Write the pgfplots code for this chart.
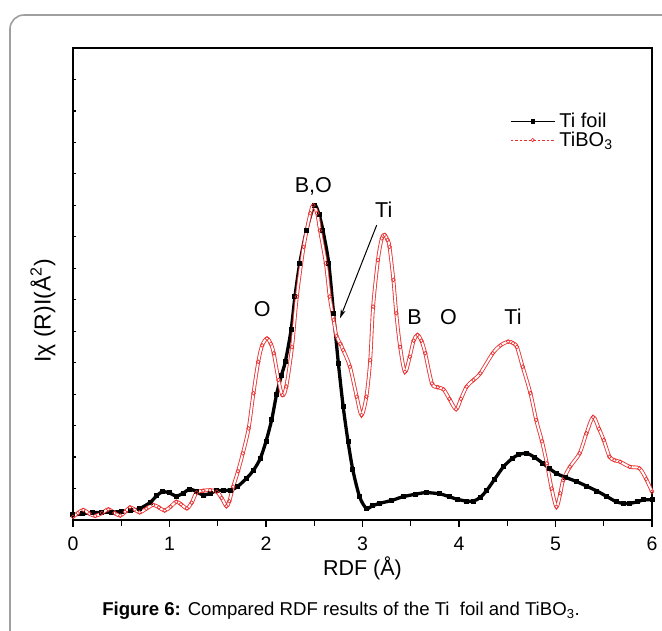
\documentclass[border=0pt]{standalone}
\usepackage{pgfplots}
\pgfplotsset{compat=1.18}
\usepackage{fontspec}
\setmainfont{Liberation Sans}
\usetikzlibrary{arrows.meta}

\definecolor{tired}{RGB}{236,48,48}

% Ti foil reference spectrum
\pgfplotstableread{
r     mag
0.00  0.16
0.10  0.20
0.20  0.23
0.30  0.24
0.40  0.25
0.50  0.27
0.60  0.30
0.69  0.36
0.80  0.56
0.87  0.78
0.93  0.90
1.00  0.86
1.07  0.76
1.14  0.85
1.21  0.98
1.28  0.90
1.35  0.79
1.42  0.85
1.49  0.93
1.56  0.94
1.63  0.95
1.70  1.05
1.80  1.33
1.87  1.58
1.94  1.95
2.00  2.50
2.06  3.20
2.11  4.00
2.16  4.60
2.20  5.03
2.26  6.04
2.30  7.10
2.35  8.16
2.42  9.20
2.50  10.00
2.55  9.70
2.59  9.20
2.65  8.16
2.70  6.57
2.75  4.98
2.80  3.60
2.85  2.50
2.90  1.59
2.97  0.74
3.04  0.37
3.10  0.45
3.18  0.53
3.30  0.62
3.42  0.74
3.55  0.82
3.66  0.87
3.80  0.83
3.90  0.74
3.98  0.66
4.08  0.60
4.15  0.60
4.22  0.72
4.29  0.95
4.37  1.30
4.46  1.69
4.55  1.95
4.62  2.08
4.70  2.12
4.78  2.00
4.87  1.80
4.94  1.63
5.01  1.48
5.10  1.36
5.22  1.22
5.32  1.08
5.43  0.92
5.53  0.75
5.63  0.58
5.70  0.53
5.77  0.53
5.85  0.58
5.91  0.64
6.00  0.64
}\tifoil

% TiBO3 sample
\pgfplotstableread{
r     mag
0.00  0.10
0.05  0.22
0.107 0.32
0.17  0.20
0.23  0.13
0.30  0.22
0.366 0.34
0.43  0.22
0.49  0.14
0.54  0.26
0.59  0.40
0.64  0.33
0.69  0.24
0.76  0.36
0.83  0.48
0.89  0.40
0.95  0.30
1.01  0.42
1.07  0.58
1.12  0.50
1.18  0.37
1.23  0.55
1.28  0.87
1.35  0.93
1.42  0.95
1.49  0.90
1.54  0.70
1.59  0.44
1.62  0.60
1.66  1.06
1.71  1.55
1.76  2.12
1.82  2.91
1.87  4.03
1.92  5.03
1.96  5.55
2.01  5.77
2.05  5.60
2.08  5.30
2.13  4.45
2.17  3.97
2.21  4.24
2.27  5.50
2.32  7.10
2.39  8.68
2.46  9.75
2.49  10.00
2.53  9.75
2.56  9.20
2.62  8.16
2.66  7.10
2.70  6.36
2.73  5.85
2.77  5.60
2.80  5.40
2.87  4.87
2.94  3.92
2.99  3.34
3.04  3.92
3.08  5.08
3.11  6.78
3.16  8.26
3.20  8.95
3.23  9.06
3.26  8.90
3.28  8.68
3.32  7.63
3.35  6.57
3.39  5.50
3.44  4.71
3.49  5.19
3.53  5.70
3.57  5.88
3.61  5.70
3.65  5.30
3.72  4.34
3.78  4.22
3.84  4.15
3.90  3.85
3.97  3.52
4.02  3.85
4.08  4.24
4.15  4.45
4.22  4.66
4.35  5.30
4.43  5.55
4.51  5.67
4.56  5.62
4.60  5.50
4.66  4.87
4.74  4.03
4.80  3.18
4.86  2.50
4.91  1.80
4.96  1.00
5.01  0.42
5.05  0.85
5.08  1.27
5.15  1.69
5.25  2.12
5.32  2.75
5.39  3.27
5.45  2.90
5.50  2.54
5.56  2.01
5.61  1.90
5.67  1.85
5.77  1.69
5.87  1.64
5.94  1.30
6.00  0.90
}\tibo

\begin{document}
\begin{tikzpicture}
\path[use as bounding box] (0pt,0pt) rectangle (662pt,-630pt);
% page frame
\draw[gray!75, line width=1.6pt, rounded corners=14pt] (10pt,-700pt) -- (10pt,-15pt) -- (760pt,-15pt);

\begin{axis}[
  at={(73pt,-520pt)}, anchor=south west,
  scale only axis, width=579pt, height=472pt,
  xmin=0, xmax=6, ymin=0, ymax=15,
  axis line style={line width=1.5pt},
  xtick={0,1,...,6}, minor xtick={0.5,1.5,...,5.5},
  xtick pos=bottom, xtick align=outside,
  ytick=\empty,
  major tick length=7pt, minor tick length=6pt,
  x tick style={line width=1.2pt, black},
  /pgf/number format/assume math mode=true,
  ticklabel style={font=\fontsize{19.5}{22}\selectfont},
  xticklabel style={yshift=-6.5pt},
  xlabel={RDF (Å)},
  xlabel style={font=\fontsize{21.5}{24}\selectfont, at={(axis description cs:0.5,-0.102)}, anchor=center},
  ylabel={Iχ (R)I(Å\textsuperscript{2})},
  ylabel style={font=\fontsize{23}{26}\selectfont, at={(axis description cs:-0.052,0.443)}, anchor=center},
  legend image code/.code={\draw[mark repeat=2,mark phase=2,#1] plot coordinates {(0pt,0pt) (22pt,0pt) (44pt,0pt)};},
  legend style={draw=none, fill=none, at={(axis description cs:0.755,0.825)}, anchor=west,
    font=\fontsize{20}{23}\selectfont, inner sep=0pt, row sep=0pt,
    nodes={inner sep=1.5pt}},
  legend cell align=left,
  /tikz/every odd column/.append style={column sep=3pt},
  clip=false,
]
% Ti foil: dense filled-square trace rendered as a heavy line with its points
\addplot[forget plot, black, line width=3.3pt, smooth,
  mark=square*, mark size=2pt, mark options={line width=0pt}]
  table[x=r, y=mag] {\tifoil};
% TiBO3: dense open-circle trace rendered as a hollow red band with its points
\addplot[forget plot, tired, line width=0.85pt, double=white, double distance=2pt, smooth,
  mark=o, mark size=1.9pt, mark options={line width=0.65pt, fill=white, double=none}]
  table[x=r, y=mag] {\tibo};

\addlegendimage{black, line width=0.6pt, mark=square*, mark size=1.8pt}
\addlegendentry{Ti foil}
\addlegendimage{tired, line width=0.6pt, dash pattern=on 2.5pt off 2pt, mark=o, mark size=1.8pt, mark options={solid}}
\addlegendentry{TiBO\textsubscript{3}}

% short inward ticks on the intensity axis
\pgfplotsinvokeforeach{1,...,14}{\draw[line width=1.2pt] (axis cs:0,#1) -- ++(3.5pt,0pt);}

% peak assignments
\begin{scope}[every node/.style={font=\fontsize{21.5}{24}\selectfont}]
\node at (axis cs:1.96,6.70) {O};
\node at (axis cs:2.49,10.59) {B,O};
\node at (axis cs:3.22,9.85) {Ti};
\node at (axis cs:3.54,6.46) {B};
\node at (axis cs:3.89,6.46) {O};
\node at (axis cs:4.56,6.46) {Ti};
\end{scope}
\draw[-{Stealth[length=9pt,width=5pt]}, line width=1pt] (axis cs:3.147,9.37) -- (axis cs:2.767,6.41);
\end{axis}

\node[font=\fontsize{18.6}{21}\selectfont] at (341pt,-611pt)
  {\textbf{Figure 6:} Compared RDF results of the Ti\ \ foil and TiBO\textsubscript{3}.};
\end{tikzpicture}
\end{document}
